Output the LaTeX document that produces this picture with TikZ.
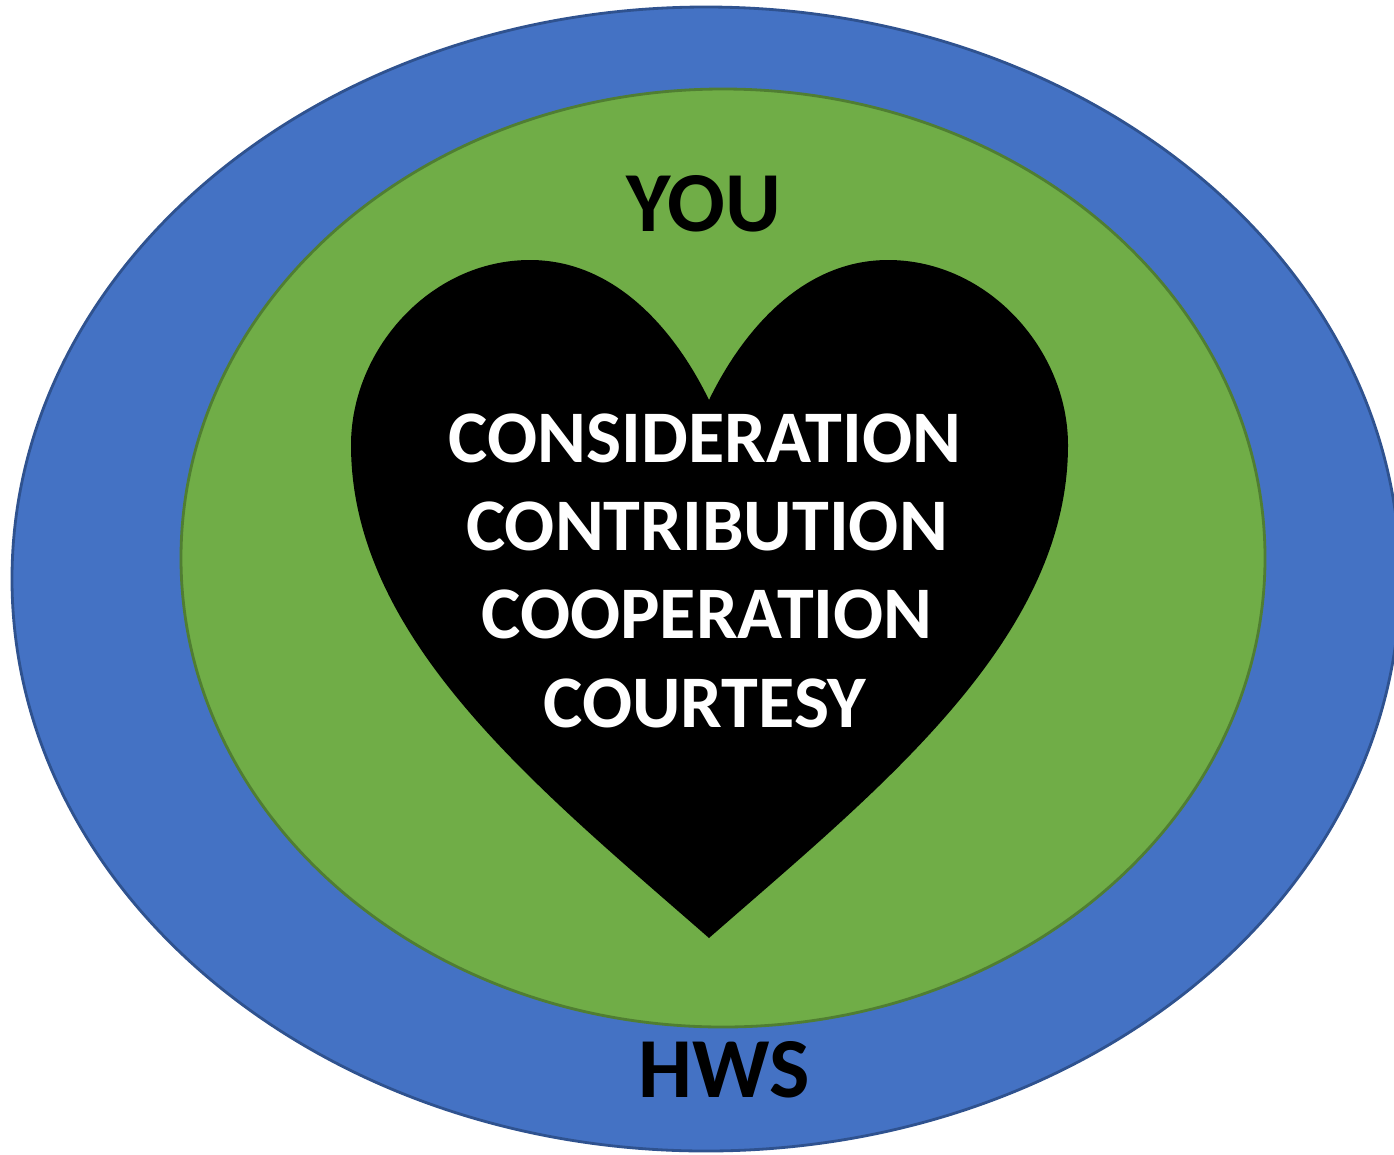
\documentclass[tikz,border=0pt]{standalone}
\usepackage{fontspec}
\setmainfont{Carlito}
\definecolor{outerblue}{HTML}{4472C4}
\definecolor{outerblueedge}{HTML}{2F528F}
\definecolor{innergreen}{HTML}{70AD47}
\definecolor{innergreenedge}{HTML}{507E32}
\begin{document}
\begin{tikzpicture}[x=0.01cm,y=-0.01cm,
  dark label/.style={font=\bfseries\fontsize{24.3}{30}\selectfont, text=black, inner sep=0pt, anchor=base},
  heart label/.style={font=\bfseries\fontsize{21.1}{26}\selectfont, text=white, inner sep=0pt, anchor=base}]
\useasboundingbox (0,0) rectangle (1394,1154);
% outer ring
\filldraw[fill=outerblue, draw=outerblueedge, line width=0.8pt] (706,579) ellipse [x radius=694, y radius=572];
% inner ring
\filldraw[fill=innergreen, draw=innergreenedge, line width=0.8pt] (723,558) ellipse [x radius=542, y radius=469];
% heart
\fill[black] (709,400)
  .. controls (675,330) and (615,260) .. (530,260)
  .. controls (430,260) and (351,350) .. (351,445)
  .. controls (351,640) and (540,790) .. (709,938)
  .. controls (878,790) and (1068,640) .. (1068,445)
  .. controls (1068,350) and (988,260) .. (888,260)
  .. controls (803,260) and (743,330) .. (709,400) -- cycle;
% labels
\node[dark label] (you) at (704,231) {YOU};
\node[dark label] (hws) at (724,1097) {HWS};
\node[heart label] (l1) at (705,462) {CONSIDERATION};
\node[heart label] (l2) at (707,550) {CONTRIBUTION};
\node[heart label] (l3) at (707,638) {COOPERATION};
\node[heart label] (l4) at (705,727) {COURTESY};
\end{tikzpicture}
\end{document}
